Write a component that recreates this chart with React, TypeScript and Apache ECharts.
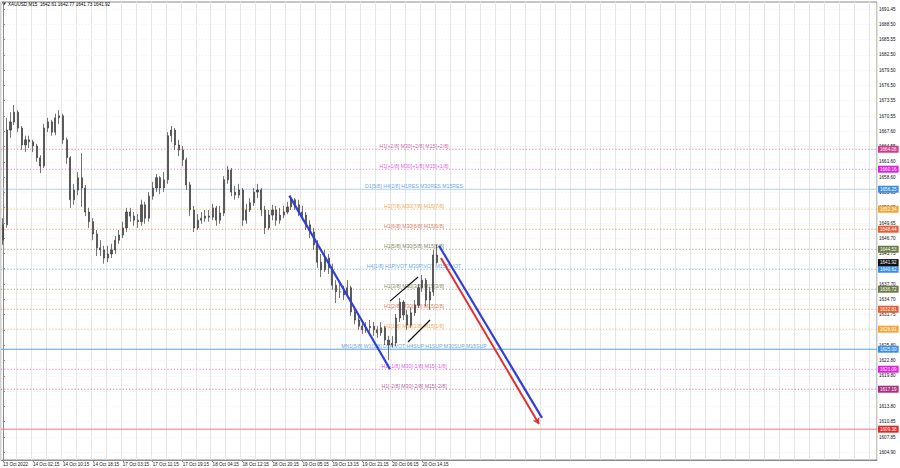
import React, { useEffect, useRef } from "react";
import * as echarts from "echarts";

// ---------- DATA ----------
// each slot = 4 M15 bars
const SLOT_COUNT = 234;
const firstOpen = 1646.3;
const closes = [
  1649.3, 1667.8, 1669.4, 1671.3, 1668.2, 1664.9, 1665.9, 1665.5, 1664.7, 1662.4,
  1660.8, 1668.2, 1669.4, 1667.4, 1670.2, 1670.6, 1665.9, 1662.4, 1654.2, 1656.1,
  1658.5, 1656.5, 1651.8, 1649.9, 1647.5, 1644.8, 1644.4, 1642.8, 1643.6, 1644.4,
  1646.3, 1647.3, 1648.7, 1651.8, 1651.0, 1650.2, 1649.9, 1653.2, 1650.6, 1654.9,
  1656.5, 1658.5, 1656.5, 1658.1, 1666.7, 1667.8, 1664.9, 1663.9, 1662.0, 1657.1,
  1652.2, 1648.7, 1650.2, 1650.6, 1651.0, 1650.8, 1652.6, 1650.2, 1651.6, 1658.1,
  1660.0, 1655.7, 1655.1, 1656.1, 1650.2, 1652.2, 1653.6, 1655.7, 1656.1, 1652.2,
  1648.7, 1651.2, 1652.2, 1650.2, 1651.2, 1651.8, 1652.8, 1654.2, 1653.2, 1651.8,
  1651.2, 1649.3, 1647.9, 1645.4, 1642.0, 1640.5, 1642.8, 1640.9, 1637.5, 1636.2,
  1636.2, 1635.6, 1637.0, 1632.3, 1630.7, 1629.5, 1628.8, 1629.2, 1629.5, 1628.8,
  1628.2, 1629.2, 1626.8, 1625.8, 1626.2, 1631.1, 1634.2, 1631.7, 1629.7, 1632.1,
  1633.6, 1637.0, 1638.5, 1634.6, 1636.2, 1643.4, 1641.92,
];
const highs = [
  1650.6, 1670.2, 1671.3, 1672.7, 1671.7, 1668.6, 1666.7, 1666.7, 1665.9, 1665.1,
  1662.9, 1669.0, 1670.2, 1669.8, 1671.0, 1671.7, 1671.0, 1666.3, 1662.7, 1657.3,
  1659.6, 1663.3, 1657.1, 1652.6, 1650.6, 1648.3, 1646.3, 1645.2, 1645.2, 1645.6,
  1647.1, 1648.3, 1649.9, 1652.6, 1652.6, 1651.8, 1651.4, 1654.2, 1653.8, 1655.7,
  1657.7, 1659.2, 1658.8, 1659.6, 1667.4, 1668.6, 1668.2, 1665.9, 1664.7, 1662.4,
  1657.7, 1653.0, 1651.4, 1651.8, 1652.2, 1652.2, 1653.4, 1653.0, 1653.0, 1658.8,
  1660.8, 1660.4, 1656.9, 1657.3, 1656.5, 1653.4, 1654.5, 1656.5, 1657.3, 1656.5,
  1653.0, 1652.2, 1653.2, 1653.0, 1652.6, 1653.0, 1653.8, 1654.9, 1654.5, 1654.2,
  1653.0, 1651.8, 1650.2, 1648.7, 1646.3, 1643.6, 1644.4, 1643.6, 1641.7, 1638.5,
  1637.7, 1637.4, 1638.5, 1637.4, 1633.1, 1631.5, 1630.3, 1630.3, 1630.7, 1630.3,
  1629.5, 1630.3, 1629.5, 1627.6, 1627.6, 1631.9, 1635.0, 1634.6, 1632.7, 1633.1,
  1634.6, 1637.7, 1639.5, 1638.9, 1637.0, 1644.4, 1645.4,
];
const lows = [
  1645.4, 1648.7, 1666.3, 1668.8, 1667.4, 1663.9, 1663.5, 1664.3, 1663.5, 1661.6,
  1659.4, 1660.4, 1667.4, 1666.7, 1666.8, 1669.0, 1665.1, 1661.2, 1652.6, 1653.2,
  1655.1, 1652.8, 1651.0, 1648.7, 1646.3, 1643.2, 1643.2, 1641.7, 1642.0, 1642.8,
  1643.6, 1645.6, 1646.7, 1647.9, 1649.9, 1649.1, 1648.7, 1649.1, 1649.5, 1649.9,
  1654.2, 1655.7, 1655.3, 1655.7, 1657.3, 1665.5, 1663.9, 1662.7, 1660.8, 1656.1,
  1651.0, 1647.9, 1648.3, 1649.5, 1649.9, 1649.9, 1650.2, 1649.1, 1649.5, 1651.0,
  1657.3, 1654.9, 1654.2, 1654.5, 1649.1, 1649.5, 1651.8, 1653.0, 1654.5, 1651.0,
  1647.5, 1648.3, 1650.2, 1649.1, 1649.5, 1650.6, 1651.4, 1652.2, 1652.2, 1651.0,
  1650.2, 1648.3, 1646.7, 1644.4, 1640.9, 1639.1, 1640.1, 1639.7, 1636.6, 1634.0,
  1635.0, 1634.6, 1635.0, 1631.5, 1629.9, 1628.8, 1628.0, 1628.2, 1628.4, 1627.6,
  1627.2, 1627.6, 1625.8, 1622.9, 1625.3, 1625.6, 1630.3, 1630.7, 1628.8, 1629.2,
  1631.5, 1633.1, 1636.2, 1633.4, 1632.7, 1635.4, 1641.7,
];

const xLabels = [
  "13 Oct 2022", "14 Oct 02:15", "14 Oct 10:15", "14 Oct 18:15", "17 Oct 03:15",
  "17 Oct 11:15", "17 Oct 19:15", "18 Oct 04:15", "18 Oct 12:15", "18 Oct 20:15",
  "19 Oct 05:15", "19 Oct 13:15", "19 Oct 21:15", "20 Oct 06:15", "20 Oct 14:15",
];
const yTicks = [
  1691.45, 1688.5, 1685.55, 1682.5, 1679.5, 1676.5, 1673.55, 1670.55, 1667.6, 1664.55,
  1661.6, 1658.6, 1655.65, 1652.65, 1649.65, 1646.7, 1643.75, 1640.75, 1637.7, 1634.7,
  1631.75, 1628.8, 1625.8, 1622.8, 1619.8, 1616.85, 1613.8, 1610.85, 1607.85, 1604.9,
];

const levelPrices = [
  1664.06, 1660.16, 1656.25, 1652.34, 1648.44, 1644.53, 1640.62,
  1636.72, 1632.81, 1628.91, 1625.0, 1621.09, 1617.19,
];
const levelTexts = [
  "H1[+2/8] M30[+2/8] M15[+2/8]",
  "H1[+1/8] M30[+1/8] M15[+1/8]",
  "D1[5/8] H4[2/8] H1RES M30RES M15RES",
  "H1[7/8] M30[7/8] M15[7/8]",
  "H1[6/8] M30[6/8] M15[6/8]",
  "H1[5/8] M30[5/8] M15[5/8]",
  "H4[1/8] H1PIVOT M30PIVOT M15PIVOT",
  "H1[3/8] M30[3/8] M15[3/8]",
  "H1[2/8] M30[2/8] M15[2/8]",
  "H1[1/8] M30[1/8] M15[1/8]",
  "MN1[5/8] W1[3/8] D1PIVOT H4SUP H1SUP M30SUP M15SUP",
  "H1[-1/8] M30[-1/8] M15[-1/8]",
  "H1[-2/8] M30[-2/8] M15[-2/8]",
];
const currentPrice = 1641.92;
const redLevel = 1609.38;
const headerText = "XAUUSD,M15  1642.61 1642.77 1641.73 1641.92";

// trend lines: [slot, price]
const blueLine1 = [[76.5, 1655.0], [103.4, 1621.1]];
const blueLine2 = [[116.5, 1645.2], [144.0, 1611.6]];
const redArrow = [[117.0, 1642.8], [143.2, 1610.4]];
const blackLine1 = [[103.4, 1634.4], [110.9, 1639.1]];
const blackLine2 = [[108.2, 1626.4], [114.1, 1630.7]];
const levelTextSlot = 109.8;

// ---------- STYLES ----------
const FONT = "'Liberation Sans', Arial, sans-serif";
const DOT = [1, 2.2];
const levelStyles = [
  { line: "#d86aa8", box: "#c93c8e", text: "#c0408c", type: DOT },
  { line: "#e86ae8", box: "#e020e0", text: "#d42ed4", type: DOT },
  { line: "#acd2ef", box: "#3a8ee0", text: "#3d8fd6", type: "solid" },
  { line: "#f4b45a", box: "#f3a53a", text: "#ec9424", type: DOT },
  { line: "#e8805c", box: "#e55f35", text: "#d4522a", type: DOT },
  { line: "#8c976a", box: "#6b7b45", text: "#5a6636", type: DOT },
  { line: "#6aa6e6", box: "#3a8ee0", text: "#3d8fd6", type: DOT },
  { line: "#8c976a", box: "#6b7b45", text: "#5a6636", type: DOT },
  { line: "#e8805c", box: "#e55f35", text: "#d4522a", type: DOT },
  { line: "#f4b45a", box: "#f3a53a", text: "#ec9424", type: DOT },
  { line: "#5aa0e8", box: "#3a8ee0", text: "#3d8fd6", type: "solid" },
  { line: "#e86ae8", box: "#e020e0", text: "#d42ed4", type: DOT },
  { line: "#c06a9c", box: "#a8307c", text: "#a8307c", type: DOT },
];

const X_MIN = -0.5;
const X_MAX = SLOT_COUNT - 0.5;

function buildOption() {
  const categories = Array.from({ length: SLOT_COUNT }, (_, i) => String(i));
  const candleData = closes.map((c, i) => {
    const o = i === 0 ? firstOpen : closes[i - 1];
    const h = Math.max(highs[i], o, c);
    const l = Math.min(lows[i], o, c);
    return [o, c, l, h];
  });

  const boxLabel = (text: string, bg: string) => ({
    show: true,
    formatter: () => text,
    backgroundColor: bg,
    color: "#fff",
    fontSize: 4.6,
    fontFamily: FONT,
    padding: [1.2, 2, 0.8, 2],
    distance: 1,
  });

  const levelSeries = levelPrices.map((p, i) => ({
    type: "line",
    xAxisIndex: 1,
    yAxisIndex: 0,
    silent: true,
    symbol: "none",
    z: 3,
    data: [[X_MIN, p], [X_MAX, p]],
    lineStyle: { color: levelStyles[i].line, width: 1, type: levelStyles[i].type },
    endLabel: boxLabel(p.toFixed(2), levelStyles[i].box),
  }));

  const textSeries = {
    type: "scatter",
    xAxisIndex: 1,
    yAxisIndex: 0,
    silent: true,
    symbol: "circle",
    symbolSize: 1,
    itemStyle: { color: "rgba(0,0,0,0)" },
    z: 4,
    data: levelPrices.map((p, i) => ({
      value: [levelTextSlot, p],
      label: {
        show: true,
        position: "top",
        distance: 0.5,
        formatter: levelTexts[i],
        color: levelStyles[i].text,
        fontSize: 5.2,
        fontFamily: FONT,
      },
    })),
  };

  const trend = (data: number[][], color: string, width: number, extra: any = {}) => ({
    type: "line",
    xAxisIndex: 1,
    yAxisIndex: 0,
    silent: true,
    symbol: "none",
    z: 8,
    data,
    lineStyle: { color, width },
    ...extra,
  });

  return {
    animation: false,
    backgroundColor: "#ffffff",
    textStyle: { fontFamily: FONT },
    title: {
      text: headerText,
      left: 8,
      top: 1.5,
      padding: 0,
      textStyle: { fontSize: 4.6, fontWeight: "normal", color: "#000", fontFamily: FONT },
    },
    graphic: [
      {
        type: "polygon",
        shape: { points: [[2, 2.5], [6, 2.5], [4, 5.5]] },
        style: { fill: "#222" },
      },
    ],
    grid: {
      left: 1,
      right: 23,
      top: 2,
      bottom: 8,
      show: true,
      borderColor: "#8a8a8a",
      borderWidth: 1,
    },
    xAxis: [
      {
        type: "category",
        data: categories,
        boundaryGap: true,
        axisLine: { show: true, lineStyle: { color: "#8a8a8a" } },
        axisTick: {
          show: true,
          length: 2,
          alignWithLabel: true,
          interval: (i: number) => i % 8 === 0 && i / 8 < xLabels.length,
          lineStyle: { color: "#8a8a8a" },
        },
        axisLabel: {
          interval: (i: number) => i % 8 === 0 && i / 8 < xLabels.length,
          formatter: (_v: string, i: number) => xLabels[i / 8] ?? "",
          align: "left",
          fontSize: 4.6,
          color: "#111",
          margin: 2,
          fontFamily: FONT,
        },
        splitLine: {
          show: true,
          interval: (i: number) => i % 4 === 0,
          lineStyle: { color: "#e6e6e6", width: 1 },
        },
      },
      { type: "value", min: X_MIN, max: X_MAX, show: false },
    ],
    yAxis: {
      type: "value",
      position: "right",
      min: 1603.36,
      max: 1692.82,
      axisLine: { show: true, lineStyle: { color: "#8a8a8a" } },
      axisTick: { show: true, length: 2, customValues: yTicks, lineStyle: { color: "#8a8a8a" } },
      axisLabel: {
        customValues: yTicks,
        formatter: (v: number) => v.toFixed(2),
        fontSize: 4.6,
        color: "#111",
        margin: 2,
        fontFamily: FONT,
      },
      splitLine: { show: true, lineStyle: { color: "#efefef", type: [1, 2] } },
    },
    series: [
      {
        type: "candlestick",
        xAxisIndex: 0,
        yAxisIndex: 0,
        silent: true,
        barWidth: 1.6,
        z: 5,
        data: candleData,
        itemStyle: {
          color: "#555555",
          color0: "#555555",
          borderColor: "#3a3a3a",
          borderColor0: "#3a3a3a",
          borderWidth: 0.7,
        },
      },
      ...levelSeries,
      {
        type: "line",
        xAxisIndex: 1,
        yAxisIndex: 0,
        silent: true,
        symbol: "none",
        z: 3,
        data: [[X_MIN, redLevel], [X_MAX, redLevel]],
        lineStyle: { color: "#e87c7c", width: 1 },
        endLabel: boxLabel(redLevel.toFixed(2), "#e02828"),
      },
      {
        type: "line",
        xAxisIndex: 1,
        yAxisIndex: 0,
        silent: true,
        symbol: "none",
        z: 6,
        data: [[X_MIN, currentPrice], [X_MAX, currentPrice]],
        lineStyle: { opacity: 0 },
        endLabel: boxLabel(currentPrice.toFixed(2), "#111111"),
      },
      textSeries,
      trend(blueLine1, "#2f3fd8", 2.2),
      trend(blueLine2, "#2f3fd8", 2.2, {
        markLine: {
          silent: true,
          symbol: ["none", "arrow"],
          symbolSize: 6,
          label: { show: false },
          lineStyle: { color: "#e33030", width: 2, type: "solid" },
          data: [[{ coord: redArrow[0] }, { coord: redArrow[1] }]],
        },
      }),
      trend(blackLine1, "#111111", 1.2),
      trend(blackLine2, "#111111", 1.2),
    ],
  };
}

export default function App() {
  const ref = useRef<HTMLDivElement>(null);
  useEffect(() => {
    if (!ref.current) return;
    const chart = echarts.init(ref.current, null, { renderer: "svg" });
    chart.setOption(buildOption() as any);
    return () => chart.dispose();
  }, []);
  return (
    <div
      ref={ref}
      style={{ width: 900, height: 468, position: "fixed", left: 0, top: 0, background: "#fff" }}
    />
  );
}
